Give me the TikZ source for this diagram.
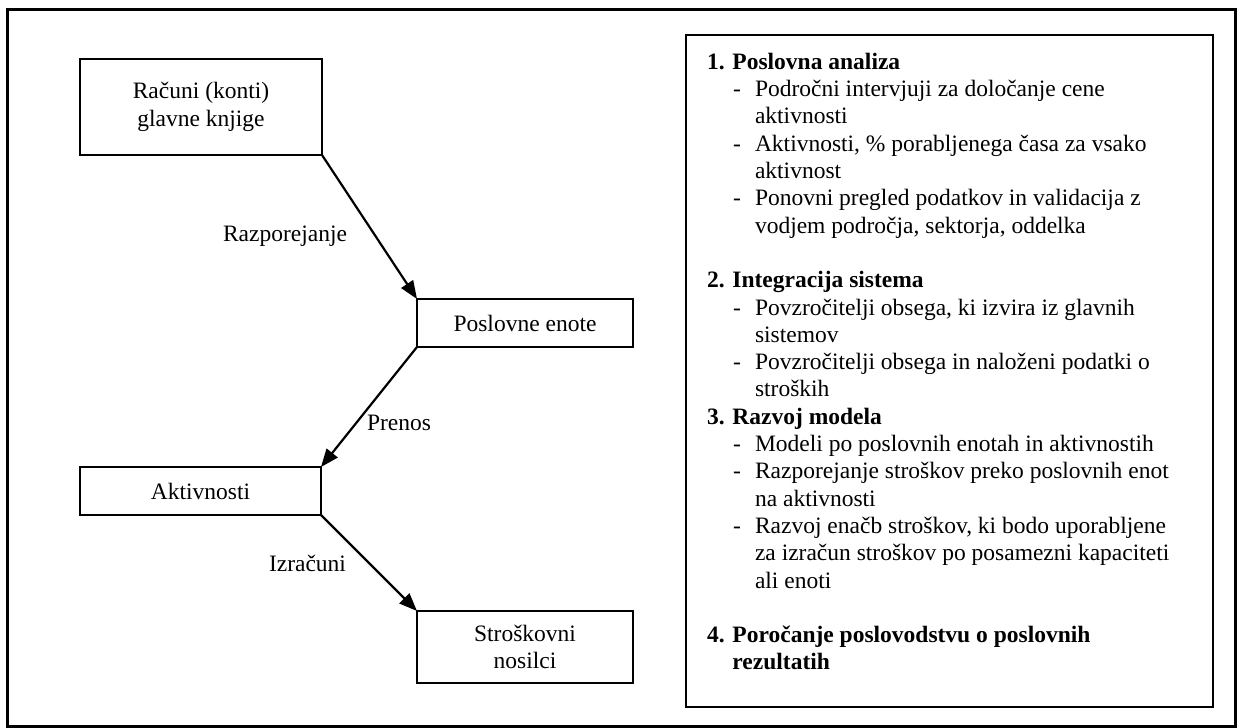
\documentclass[tikz,border=0pt]{standalone}
\usepackage{fontspec}
\setmainfont{Liberation Serif}
\usetikzlibrary{arrows.meta}
% bullet line and its continuation inside the method panel
\newcommand\pitem[1]{\hspace*{13pt}\makebox[11pt][l]{-}#1}
\newcommand\pcont[1]{\hspace*{24pt}#1}
\begin{document}
\begin{tikzpicture}[x=0.5pt,y=-0.5pt,
  every node/.style={font=\fontsize{11.75}{13.65}\selectfont, inner sep=0pt, outer sep=0pt},
  stage/.style={draw, line width=1pt, align=center},
  flow/.style={line width=1.1pt, -{Triangle[length=9pt,width=7pt]}},
  steplabel/.style={anchor=base east}]
\useasboundingbox (0,0) rectangle (1237,728);
% outer frame
\draw[line width=1.5pt] (7,9) rectangle (1235,726);

% cost flow chain
\node[stage, minimum width=121pt, minimum height=48pt] (ledger) at (201,107) {Računi (konti)\\glavne knjige};
\node[stage, minimum width=108pt, minimum height=24pt] (units) at (525,323) {Poslovne enote};
\node[stage, minimum width=120.5pt, minimum height=24pt] (activities) at (200.5,491) {Aktivnosti};
\node[stage, minimum width=108pt, minimum height=36pt] (carriers) at (525,647) {Stroškovni\\nosilci};

\draw[flow] (ledger.south east) -- (units.north west);
\draw[flow] (units.south west) -- (activities.north east);
\draw[flow] (activities.south east) -- (carriers.north west);

\node[steplabel] (lblA) at (347,241) {Razporejanje};
\node[anchor=base west] (lblB) at (367,430) {Prenos};
\node[steplabel] (lblC) at (346,571) {Izračuni};

% method panel
\node[draw, line width=1.3pt, minimum width=263.5pt, minimum height=336pt, anchor=north west] (panel) at (686,35) {};
\node[anchor=north west, align=left] (steps) at ([shift={(21,18)}]panel.north west) {%
\textbf{1. Poslovna analiza}\\
\pitem{Področni intervjuji za določanje cene}\\
\pcont{aktivnosti}\\
\pitem{Aktivnosti, \% porabljenega časa za vsako}\\
\pcont{aktivnost}\\
\pitem{Ponovni pregled podatkov in validacija z}\\
\pcont{vodjem področja, sektorja, oddelka}\\[13.65pt]
\textbf{2. Integracija sistema}\\
\pitem{Povzročitelji obsega, ki izvira iz glavnih}\\
\pcont{sistemov}\\
\pitem{Povzročitelji obsega in naloženi podatki o}\\
\pcont{stroških}\\
\textbf{3. Razvoj modela}\\
\pitem{Modeli po poslovnih enotah in aktivnostih}\\
\pitem{Razporejanje stroškov preko poslovnih enot}\\
\pcont{na aktivnosti}\\
\pitem{Razvoj enačb stroškov, ki bodo uporabljene}\\
\pcont{za izračun stroškov po posamezni kapaciteti}\\
\pcont{ali enoti}\\[13.65pt]
\textbf{4. Poročanje poslovodstvu o poslovnih}\\
\textbf{\phantom{4. }rezultatih}};
\end{tikzpicture}
\end{document}
